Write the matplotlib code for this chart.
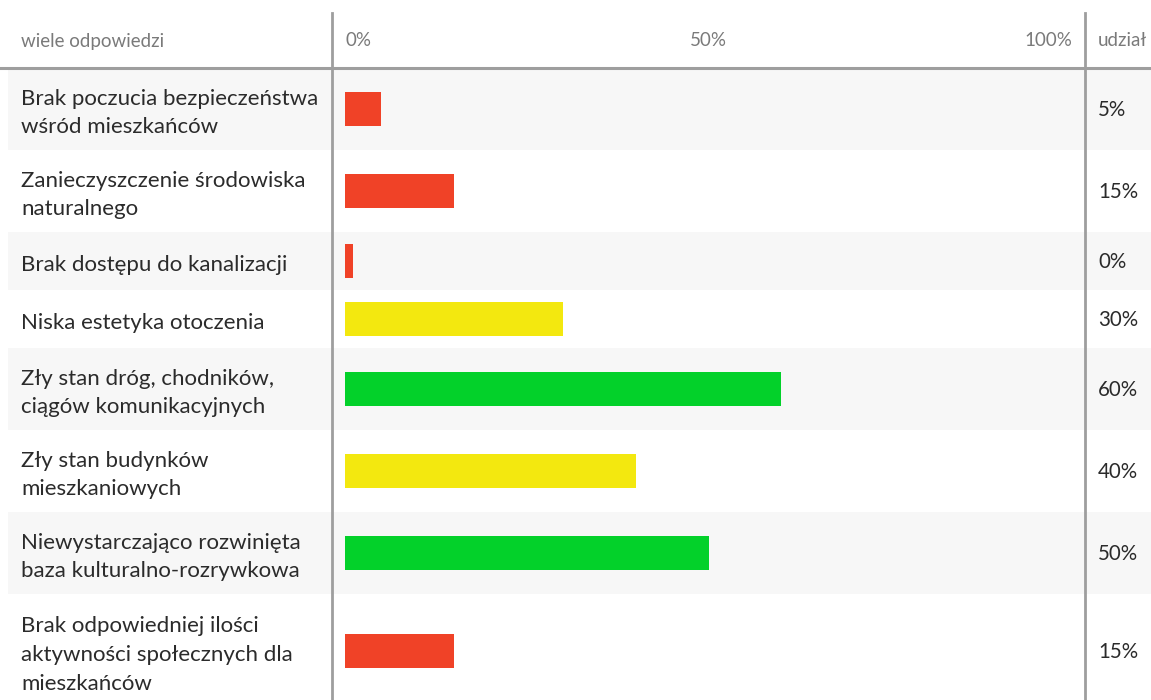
import matplotlib.pyplot as plt
from matplotlib.patches import Rectangle

# data
labels = [
    "Brak poczucia bezpieczeństwa\nwśród mieszkańców",
    "Zanieczyszczenie środowiska\nnaturalnego",
    "Brak dostępu do kanalizacji",
    "Niska estetyka otoczenia",
    "Zły stan dróg, chodników,\nciągów komunikacyjnych",
    "Zły stan budynków\nmieszkaniowych",
    "Niewystarczająco rozwinięta\nbaza kulturalno-rozrywkowa",
    "Brak odpowiedniej ilości\naktywności społecznych dla\nmieszkańców",
]
shares = [5, 15, 0, 30, 60, 40, 50, 15]
header_left = "wiele odpowiedzi"
header_right = "udział"
scale_ticks = [0, 50, 100]

RED = "#f04227"
YELLOW = "#f3e80f"
GREEN = "#03d12a"

def bar_colour(v):
    if v < 30:
        return RED
    if v < 50:
        return YELLOW
    return GREEN

W, H = 1151, 700
FONT = ["Lato", "DejaVu Sans"]
plt.rcParams['font.family'] = FONT

fig = plt.figure(figsize=(W / 100, H / 100), dpi=100)
bg = fig.add_axes([0, 0, 1, 1])
bg.set_xlim(0, W)
bg.set_ylim(H, 0)
bg.axis('off')

# layout of table rows (pixels)
HEADER_H = 68
ROW_H = {1: 58, 2: 82, 3: 114}
BAR_X0, BAR_X1 = 345, 1072
SEP_X, RIGHT_SEP_X = 332, 1085

tops, centers = [], []
y = HEADER_H
for lab in labels:
    h = ROW_H[lab.count("\n") + 1]
    tops.append((y, h))
    centers.append(y + h / 2)
    y += h

for i, (t, h) in enumerate(tops):
    if i % 2 == 0:
        bg.add_patch(Rectangle((8, t), W - 8, h, color="#f7f7f7", lw=0, zorder=0))
    bg.text(21, t + h / 2 + 4, labels[i], fontsize=16, color="#2b2b2b",
            va='center', ha='left', linespacing=1.55)
    bg.text(1098, t + h / 2 + 1, f"{shares[i]}%", fontsize=14.8, color="#2b2b2b",
            va='center', ha='left')

# header
bg.plot([0, W], [HEADER_H, HEADER_H], color="#9e9e9e", lw=2.2, zorder=3)
bg.plot([SEP_X, SEP_X], [13, H], color="#9e9e9e", lw=2, zorder=3)
bg.plot([RIGHT_SEP_X, RIGHT_SEP_X], [13, H], color="#9e9e9e", lw=2, zorder=3)
bg.text(21, 41, header_left, fontsize=13.5, color="#7a7a7a", va='center', ha='left')
bg.text(1098, 41, header_right, fontsize=13.5, color="#7a7a7a", va='center', ha='left')

# bars
ax = fig.add_axes([BAR_X0 / W, 0, (BAR_X1 - BAR_X0) / W, 1])
ax.set_xlim(0, 100)
ax.set_ylim(H, 0)
ax.axis('off')
ax.patch.set_alpha(0)
shown = [max(v, 1.1) for v in shares]  # zero still gets a sliver
ax.barh(centers, shown, height=34, left=0,
        color=[bar_colour(v) for v in shares], zorder=2)
for t in scale_ticks:
    ha = 'left' if t == 0 else ('right' if t == 100 else 'center')
    ax.text(t, 41, f"{t}%", fontsize=13.5, color="#7a7a7a", va='center', ha=ha)

fig.savefig("out.png", dpi=100)
